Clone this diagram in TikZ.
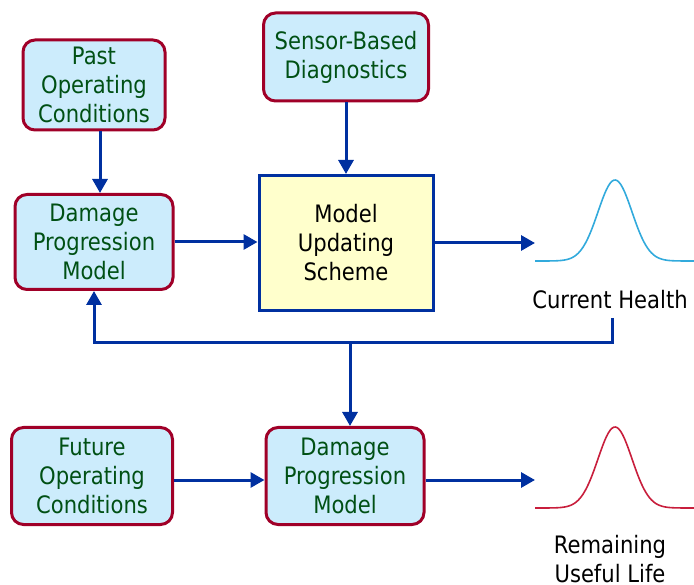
\documentclass[tikz,border=0pt]{standalone}
\usepackage{fontspec}
\setmainfont{DejaVu Sans}[FakeStretch=0.88]
\usetikzlibrary{arrows.meta}

\definecolor{boxred}{RGB}{160,0,40}
\definecolor{boxfill}{RGB}{204,236,252}
\definecolor{boxtext}{RGB}{0,80,20}
\definecolor{flowblue}{RGB}{0,48,160}
\definecolor{updfill}{RGB}{255,255,204}
\definecolor{healthblue}{RGB}{50,170,220}
\definecolor{rulred}{RGB}{200,30,60}

\begin{document}
\begin{tikzpicture}[x=1pt,y=-1pt,
    cond/.style={draw=boxred,fill=boxfill,line width=3pt,rounded corners=12pt,
      text=boxtext,align=center,inner sep=0pt,
      font=\fontsize{24}{29}\selectfont},
    updbox/.style={draw=flowblue,fill=updfill,line width=3pt,
      align=center,inner sep=0pt,font=\fontsize{24}{29}\selectfont},
    flow/.style={draw=flowblue,line width=3pt,
      -{Triangle[length=14pt,width=15pt]}},
    tag/.style={align=center,font=\fontsize{24}{29}\selectfont}]
  \useasboundingbox (0,0) rectangle (694,585);

  % input and model boxes
  \node[cond,minimum width=142,minimum height=90] (past) at (94,85)
    {Past\\Operating\\Conditions};
  \node[cond,minimum width=165,minimum height=88] (sensor) at (346,57)
    {Sensor-Based\\Diagnostics};
  \node[cond,minimum width=158,minimum height=95] (dmgA) at (94,242)
    {Damage\\Progression\\Model};
  \node[updbox,minimum width=174,minimum height=135] (upd) at (346,243)
    {Model\\Updating\\Scheme};
  \node[cond,minimum width=161,minimum height=97] (future) at (92,476)
    {Future\\Operating\\Conditions};
  \node[cond,minimum width=158,minimum height=97] (dmgB) at (345,476)
    {Damage\\Progression\\Model};

  % output densities
  \draw[healthblue,line width=1.6pt] plot[domain=535:694,samples=90,smooth]
    (\x,{261-81*exp(-((\x-615)/17)^2/2)});
  \draw[rulred,line width=1.6pt] plot[domain=535:694,samples=90,smooth]
    (\x,{508-81*exp(-((\x-615)/17)^2/2)});
  \node[tag] (health) at (610,300) {Current Health};
  \node[tag] (rul) at (610,559) {Remaining\\Useful Life};

  \coordinate (outA) at (535,243);
  \coordinate (outB) at (535,480);
  \coordinate (hfoot) at (612,318);
  \coordinate (fb) at (612,343);

  % arrows
  \draw[flow] ([xshift=6pt]past.south) -- ([xshift=6pt]dmgA.north);
  \draw[flow] (sensor.south) -- (upd.north);
  \draw[flow] (dmgA.east) -- (dmgA.east -| upd.west);
  \draw[flow] (upd.east) -- (outA);
  \draw[flow] (hfoot) -- (fb) -| (dmgA.south);
  \draw[flow] ([xshift=5pt]dmgB.north |- fb) -- ([xshift=5pt]dmgB.north);
  \draw[flow] ([yshift=-4pt]future.east) -- ([yshift=-4pt]future.east -| dmgB.west);
  \draw[flow] ([yshift=-4pt]dmgB.east) -- (outB);
\end{tikzpicture}
\end{document}
